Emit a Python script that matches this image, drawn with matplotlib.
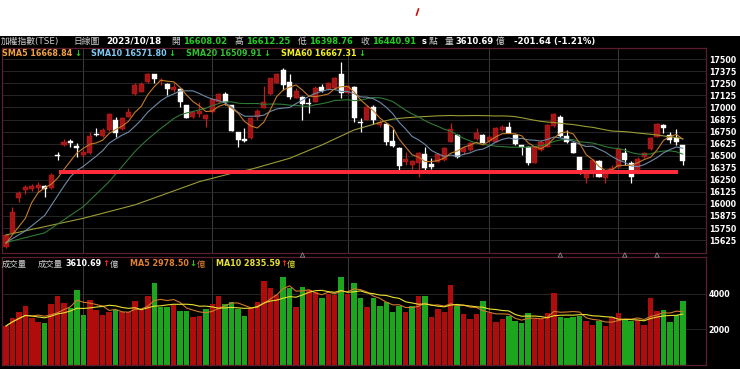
import matplotlib
matplotlib.use('Agg')
import matplotlib.pyplot as plt
from matplotlib.patches import Rectangle
from matplotlib.lines import Line2D
import numpy as np
import pandas as pd

plt.rcParams['font.family'] = ['DejaVu Sans', 'Noto Sans CJK TC']

# ========== donnees ==========
opens = [15557, 15695, 16058, 16144, 16158, 16165, 16186, 16162, 16504, 16608,
         16653, 16601, 16507, 16525, 16722, 16704, 16767, 16870, 16774, 16905,
         17137, 17164, 17261, 17347, 17280, 17240, 17182, 17189, 17026, 16905,
         16935, 16881, 16950, 17061, 17137, 17026, 16743, 16670, 16680, 16905,
         16998, 17137, 17255, 17389, 17268, 17102, 17112, 17050, 17061, 17216,
         17188, 17199, 17344, 17147, 17216, 16853, 16870, 17009, 16815, 16829,
         16653, 16584, 16438, 16404, 16421, 16514, 16414, 16438, 16456, 16646,
         16715, 16540, 16560, 16670, 16715, 16656, 16646, 16767, 16801, 16715,
         16611, 16594, 16428, 16560, 16594, 16808, 16898, 16705, 16635, 16483,
         16266, 16335, 16449, 16266, 16345, 16380, 16532, 16428, 16352, 16490,
         16570, 16698, 16818, 16715, 16687, 16608.02]
highs = [15690, 15965, 16134, 16196, 16207, 16231, 16193, 16324, 16542, 16670,
         16677, 16635, 16559, 16750, 16784, 16791, 16940, 16905, 16898, 16998,
         17258, 17268, 17354, 17352, 17302, 17251, 17251, 17199, 17030, 16965,
         17060, 16930, 17095, 17150, 17157, 17030, 16750, 16784, 16900, 16981,
         17226, 17310, 17354, 17406, 17344, 17206, 17120, 17095, 17223, 17240,
         17260, 17320, 17469, 17233, 17220, 16888, 17026, 17026, 16870, 16836,
         16777, 16590, 16542, 16460, 16540, 16587, 16473, 16525, 16590, 16836,
         16722, 16600, 16640, 16784, 16722, 16710, 16800, 16820, 16853, 16720,
         16615, 16600, 16594, 16660, 16825, 16940, 16922, 16767, 16640, 16490,
         16345, 16466, 16460, 16335, 16404, 16575, 16577, 16440, 16490, 16540,
         16695, 16835, 16825, 16750, 16777, 16612.25]
lows = [15545, 15688, 16024, 16100, 16138, 16127, 16075, 16151, 16456, 16601,
        16587, 16490, 16483, 16518, 16700, 16698, 16760, 16698, 16767, 16898,
        17130, 17157, 17254, 17251, 17230, 17130, 17157, 17009, 16890, 16895,
        16905, 16801, 16940, 17050, 17026, 16755, 16594, 16639, 16670, 16870,
        16991, 17130, 17250, 17182, 17088, 17095, 16870, 16940, 17061, 17164,
        17180, 17182, 17095, 17137, 16853, 16750, 16870, 16826, 16800, 16612,
        16594, 16352, 16404, 16317, 16276, 16352, 16359, 16430, 16449, 16639,
        16480, 16518, 16545, 16663, 16630, 16640, 16640, 16760, 16732, 16611,
        16507, 16404, 16420, 16550, 16590, 16800, 16691, 16635, 16525, 16310,
        16214, 16276, 16275, 16214, 16335, 16375, 16404, 16214, 16345, 16480,
        16560, 16690, 16732, 16628, 16611, 16398.76]
closes = [15678, 15920, 16110, 16179, 16186, 16195, 16158, 16300, 16494, 16642,
          16628, 16577, 16542, 16704, 16712, 16767, 16929, 16739, 16888, 16957,
          17235, 17245, 17344, 17296, 17290, 17189, 17216, 17061, 16895, 16950,
          16962, 16922, 17085, 17140, 17061, 16760, 16663, 16655, 16895, 16964,
          17061, 17303, 17347, 17233, 17112, 17171, 17033, 17040, 17206, 17171,
          17251, 17303, 17147, 17223, 16888, 16836, 17009, 16870, 16850, 16639,
          16604, 16393, 16462, 16450, 16525, 16370, 16385, 16518, 16583, 16774,
          16483, 16580, 16629, 16732, 16635, 16690, 16791, 16794, 16739, 16622,
          16587, 16428, 16587, 16640, 16818, 16929, 16705, 16646, 16532, 16330,
          16340, 16456, 16283, 16324, 16369, 16566, 16456, 16283, 16462, 16532,
          16687, 16829, 16784, 16663, 16643, 16440.91]
volumes = [2187, 2659, 2980, 3320, 2622, 2433, 2339, 3414, 3887, 3508,
           3226, 4227, 2812, 3659, 3092, 2790, 2998, 3092, 2980, 2980,
           3603, 3092, 3887, 4606, 3282, 3282, 3376, 3055, 3055, 2677,
           2772, 3149, 3433, 3887, 3433, 3565, 3130, 2753, 3187, 3565,
           4737, 4321, 3943, 4982, 4321, 3245, 4416, 4227, 4132, 3754,
           4000, 3943, 4945, 3981, 4606, 3754, 3282, 3791, 3339, 3527,
           2980, 3320, 2998, 3320, 3887, 3887, 2696, 3130, 2980, 4528,
           3339, 2866, 2565, 2866, 3621, 2904, 2414, 2565, 2753, 2489,
           2376, 2942, 2584, 2584, 2904, 4076, 2678, 2659, 2715, 2753,
           2452, 2225, 2452, 2187, 2715, 2904, 2603, 2470, 2527, 2263,
           3773, 3036, 3092, 2433, 2810, 3611]

# debut des moyennes (historique avant la fenetre)
sma5_early_idx, sma5_early = [0, 1, 2, 3], [15590, 15680, 15765, 15850]
sma10_early_idx, sma10_early = [0, 3, 6], [15600, 15720, 15880]
sma20_early_idx, sma20_early = [0, 6, 12, 16], [15600, 15700, 15972, 16231]
sma60_early_idx = [0, 12, 20, 25, 30, 35, 38, 44, 49, 54]
sma60_early = [15678, 15851, 15990, 16110, 16231, 16317, 16359, 16473, 16611, 16767]

support_level = 16334
support_from, support_to = 8.3, 104.2
month_starts = [12, 32, 53, 75, 95]
event_idx = [46, 86, 96, 101]

# ========== calculs ==========
df = pd.DataFrame({"O": opens, "H": highs, "L": lows, "C": closes, "V": volumes})
idx = np.arange(len(df))


def moyenne(n, e_idx, e_val):
    full = df["C"].rolling(n).mean()
    xs = list(e_idx) + list(range(n - 1, len(df)))
    ys = list(e_val) + list(full.iloc[n - 1:])
    return xs, ys


# ========== figure ==========
W, H = 740, 369
fig = plt.figure(figsize=(7.4, 3.69), dpi=100, facecolor='white')


def fx(x):
    return x / W


def fy(y):
    return 1 - y / H


fig.add_artist(Rectangle((0, 0), 1, fy(36), transform=fig.transFigure,
                         facecolor='black', edgecolor='none', zorder=-1))

ax = fig.add_axes([fx(2), fy(253), fx(706) - fx(2), fy(47.7) - fy(253)])
axv = fig.add_axes([fx(2), fy(364.6), fx(706) - fx(2), fy(257) - fy(364.6)])

border = '#5a1e2c'
for a in (ax, axv):
    a.set_facecolor('black')
    a.set_xlim(-0.62, 108.6)
    for s in a.spines.values():
        s.set_color(border)
        s.set_linewidth(0.9)
    a.set_xticks(month_starts)
    a.tick_params(axis='x', length=0, labelbottom=False)
    a.grid(axis='x', color='#454545', linewidth=0.6)
    a.grid(axis='y', color='#2c2c2c', linewidth=0.6)
    a.set_axisbelow(True)
    a.yaxis.tick_right()
    a.tick_params(axis='y', length=0, pad=2, labelsize=5.7, labelcolor='white')

# chandeliers
up = df["C"] >= df["O"]
red = '#a51515'
wick_c = np.where(up, '#c21f1f', 'white')
body_c = np.where(up, red, 'white')
ax.vlines(idx, df["L"], df["H"], colors=wick_c, linewidth=0.9, zorder=2)
body_bot = np.minimum(df["O"], df["C"])
body_h = np.maximum((df["C"] - df["O"]).abs(), 8)
ax.bar(idx, body_h, bottom=body_bot, width=0.78, color=body_c,
       edgecolor=wick_c, linewidth=0.3, zorder=2)

# moyennes mobiles
for n, ei, ev, col in [(60, sma60_early_idx, sma60_early, '#9c9c34'),
                       (20, sma20_early_idx, sma20_early, '#2f7a35'),
                       (10, sma10_early_idx, sma10_early, '#6d8aa6'),
                       (5, sma5_early_idx, sma5_early, '#c47a2a')]:
    xs, ys = moyenne(n, ei, ev)
    ax.plot(xs, ys, color=col, linewidth=0.8, zorder=3)

ax.hlines(support_level, support_from, support_to, colors='#ff2b3b',
          linewidth=2.9, zorder=4)

ax.set_ylim(15491, 17620)
ax.set_yticks(np.arange(15625, 17501, 125))
for lab in ax.get_yticklabels():
    lab.set_fontweight('bold')

# volume
prev = df["C"].shift(1).fillna(df["C"].iloc[0] - 1)
vcol = np.where(df["C"] >= prev, '#b00c0c', '#1ea51e')
axv.bar(idx, df["V"], width=0.85, color=vcol, zorder=2)
axv.plot(idx, df["V"].rolling(5, min_periods=1).mean(), color='#d07a2c', linewidth=0.8, zorder=3)
axv.plot(idx, df["V"].rolling(10, min_periods=1).mean(), color='#e8e030', linewidth=0.8, zorder=3)
axv.set_ylim(0, 6096)
axv.set_yticks([2000, 4000])
for lab in axv.get_yticklabels():
    lab.set_fontweight('bold')
axv.scatter(event_idx, [6210] * len(event_idx), marker='^', s=10, facecolors='none',
            edgecolors='#8a8a8a', linewidths=0.6, clip_on=False, zorder=5)

# ========== textes ==========
grey = '#d0d0d0'
green = '#22cc22'


def txt(x, y, s, c, bold=False, size=6.0):
    fig.text(fx(x), fy(y), s, color=c, fontsize=size, va='center', ha='left',
             fontweight='bold' if bold else 'normal')


row1 = 41.5
txt(1, row1, "加權指數(TSE)", grey, size=6.3)
txt(73, row1, "日線圖", grey, size=6.3)
txt(106, row1, "2023/10/18", 'white', True, 6.3)
txt(171, row1, "開", grey, size=6.3)
txt(183, row1, "16608.02", green, True)
txt(235, row1, "高", grey, size=6.3)
txt(246, row1, "16612.25", green, True)
txt(298, row1, "低", grey, size=6.3)
txt(309, row1, "16398.76", green, True)
txt(360, row1, "收", grey, size=6.3)
txt(372, row1, "16440.91", green, True)
txt(422, row1, "s", 'white', True)
txt(429, row1, "點", grey, size=6.3)
txt(445, row1, "量", grey, size=6.3)
txt(455, row1, "3610.69", 'white', True)
txt(496, row1, "億", grey, size=6.3)
txt(514, row1, "-201.64 (-1.21%)", 'white', True, 6.2)

row2 = 53
txt(2, row2, "SMA5 16668.84", '#f0a040', True, 5.8)
txt(74, row2, "↓", green, True, 6)
txt(91, row2, "SMA10 16571.80", '#80c8f0', True, 5.8)
txt(168, row2, "↓", green, True, 6)
txt(186, row2, "SMA20 16509.91", '#30c030', True, 5.8)
txt(263, row2, "↓", green, True, 6)
txt(281, row2, "SMA60 16667.31", '#f0f020', True, 5.8)
txt(358, row2, "↓", green, True, 6)

row3 = 264
txt(2, row3, "成交量", grey, size=6.0)
txt(38, row3, "成交量", grey, size=6.0)
txt(65, row3, "3610.69", 'white', True, 5.8)
txt(102, row3, "↑", '#ff2020', True, 6)
txt(110, row3, "億", grey, size=6.0)
txt(130, row3, "MA5 2978.50", '#e08030', True, 5.8)
txt(189, row3, "↓", green, True, 6)
txt(197, row3, "億", '#e08030', size=6.0)
txt(216, row3, "MA10 2835.59", '#e8e030', True, 5.8)
txt(280, row3, "↑", '#ff2020', True, 6)
txt(287, row3, "億", '#e8e030', size=6.0)

# petite marque rouge en haut
fig.add_artist(Line2D([fx(416.5), fx(418.5)], [fy(15), fy(9)], color='#d01010', linewidth=1.2))

fig.savefig("out.png", dpi=100, facecolor=fig.get_facecolor())
print("ok")
